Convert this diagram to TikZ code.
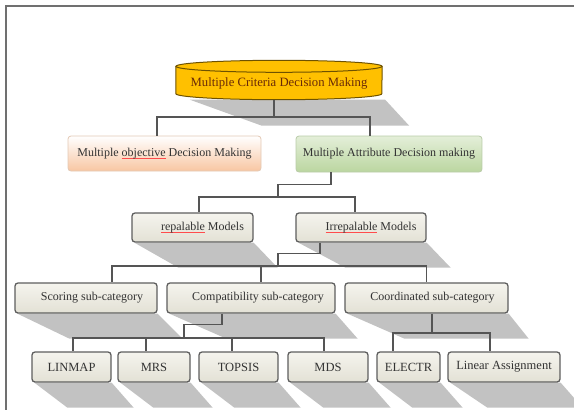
\documentclass[tikz,border=0pt]{standalone}
\usepackage{fontspec}
\setmainfont{Liberation Serif}
\usetikzlibrary{backgrounds,calc}
\definecolor{boxtop}{HTML}{F5F4EE}
\definecolor{boxbot}{HTML}{E3E1D5}
\definecolor{boxline}{HTML}{5E5E5E}
\definecolor{txt}{HTML}{333333}
\definecolor{connc}{HTML}{555555}
\definecolor{shadc}{HTML}{C2C2C2}
\definecolor{peach}{HTML}{F8C6A2}
\definecolor{peachline}{HTML}{E2C8B4}
\definecolor{leaf}{HTML}{BBD6A0}
\definecolor{leafline}{HTML}{B9CBA8}
\definecolor{gold}{HTML}{FFC000}
\definecolor{goldline}{HTML}{6E5200}
\definecolor{toptext}{HTML}{6A2A08}
\definecolor{framec}{HTML}{707070}
\newcommand\sperr[1]{\setbox0\hbox{#1}\rlap{\color{red!70}\rule[-2.2pt]{\wd0}{0.5pt}}\box0\relax}
\newcommand\boxshade[3]{\fill[shadc] ([xshift=3pt]#1.south west) -- (#1.south east) -- ++(#3,25) -- ($(#1.south west)+(#2,25)$) -- cycle;}
\tikzset{
  box/.style={rectangle, rounded corners=3pt, draw=boxline, line width=1.3pt,
    top color=boxtop, bottom color=boxbot, inner sep=0pt, text=txt,
    font=\fontsize{12}{14}\selectfont},
  leafbox/.style={box, font=\fontsize{12.5}{14}\selectfont, minimum height=30pt},
  conn/.style={draw=connc, line width=1.3pt},
}
\begin{document}
\begin{tikzpicture}[x=1pt,y=-1pt]
\clip (0,0) rectangle (574,410);
\draw[framec, line width=2pt] (6,410) -- (6,6) -- (574,6);

% top node (text area; cylinder drawn around it)
\node[inner sep=0pt, minimum width=206pt, minimum height=27pt, text=toptext,
  font=\fontsize{12.7}{14}\selectfont] (top) at (279,83)
  {Multiple Criteria Decision Making};

% level 2
\node[box, draw=peachline, line width=0.8pt, top color=white, bottom color=peach,
  minimum width=193pt, minimum height=35pt]
  (modm) at (164.5,153.5) {Multiple \sperr{objective} Decision Making};
\node[box, draw=leafline, line width=0.8pt, top color=white!60!leaf, bottom color=leaf,
  minimum width=186pt, minimum height=36pt]
  (madm) at (389,154) {Multiple Attribute Decision making};

% level 3
\node[box, minimum width=121pt, minimum height=29pt]
  (rep) at (192.5,227.5) {\hspace*{20pt}\sperr{repalable} Models};
\node[box, minimum width=130pt, minimum height=29pt]
  (irr) at (361,227.5) {\hspace*{20pt}\sperr{Irrepalable} Models};

% level 4
\node[box, minimum width=142pt, minimum height=30pt] (scor) at (86,298)
  {\hspace*{12pt}Scoring sub-category};
\node[box, minimum width=168pt, minimum height=30pt] (comp) at (251,298)
  {\hspace*{14pt}Compatibility sub-category};
\node[box, minimum width=163pt, minimum height=30pt] (coord) at (426.5,298)
  {\hspace*{12pt}Coordinated sub-category};

% level 5
\node[leafbox, minimum width=79pt] (linmap) at (71.5,367) {LINMAP};
\node[leafbox, minimum width=72pt] (mrs) at (154,367) {MRS};
\node[leafbox, minimum width=79pt] (topsis) at (238.5,367) {TOPSIS};
\node[leafbox, minimum width=80pt] (mds) at (328,367) {MDS};
\node[leafbox, minimum width=63pt] (electr) at (408.5,367) {ELECTR};
\node[leafbox, minimum width=112pt] (linass) at (504,367) {Linear Assignment};

\begin{pgfonlayer}{background}
  % shadows
  \fill[shadc] ($(top.south west)+(14,3)$) -- ($(top.south east)+(3,3)$) -- ++(24,26)
     -- ($(top.south west)+(86,29)$) -- cycle;
  \boxshade{rep}{47}{24}
  \boxshade{irr}{50}{24}
  \boxshade{scor}{55}{25}
  \boxshade{comp}{60}{22}
  \boxshade{coord}{60}{20}
  \boxshade{linmap}{36}{22}
  \boxshade{mrs}{36}{22}
  \boxshade{topsis}{36}{22}
  \boxshade{mds}{36}{22}
  \boxshade{electr}{36}{22}
  \boxshade{linass}{40}{22}
  % cylinder body
  \filldraw[fill=gold, draw=goldline, line width=1pt]
    ([yshift=3pt]top.north west) -- ([yshift=3pt]top.south west)
    arc[start angle=180, end angle=360, x radius=103pt, y radius=6pt]
    -- ([yshift=3pt]top.north east) -- cycle;
  \filldraw[fill=gold, draw=goldline, line width=1pt]
    ([yshift=3pt]top.north) ellipse [x radius=103pt, y radius=6pt];
\end{pgfonlayer}

% connectors
\coordinate (j1) at (274,117);
\draw[conn] ([xshift=-5pt,yshift=-3pt]top.south) -- (j1);
\draw[conn] (j1) -| ([xshift=-7.5pt]modm.north);
\draw[conn] (j1) -| ([xshift=-19pt]madm.north);

\coordinate (j2) at (278,197);
\draw[conn] ([xshift=-58pt]madm.south) -- ++(0,12) -| (j2);
\draw[conn] (j2) -| ([xshift=6.5pt]rep.north);
\draw[conn] (j2) -| ([xshift=-6pt]irr.north);

\coordinate (j3) at (278,266);
\draw[conn] ([xshift=-41pt]irr.south) -- ++(0,11) -| (j3);
\draw[conn] (j3) -| ([xshift=26pt]scor.north);
\draw[conn] (j3) -| ([xshift=10pt]comp.north);
\draw[conn] (j3) -| (coord.north);

\coordinate (j4) at (184,338);
\draw[conn] ([xshift=-29pt]comp.south) -- ++(0,11) -| (j4);
\draw[conn] (j4) -| ([xshift=1.5pt]linmap.north);
\draw[conn] (j4) -| ([xshift=-8pt]mrs.north);
\draw[conn] (j4) -| ([xshift=-6.5pt]topsis.north);
\draw[conn] (j4) -| ([xshift=-4pt]mds.north);

\coordinate (j5) at (432,333);
\draw[conn] ([xshift=5.5pt]coord.south) -- (j5);
\draw[conn] (j5) -| ([xshift=-15.5pt]electr.north);
\draw[conn] (j5) -| ([xshift=-14pt]linass.north);
\end{tikzpicture}
\end{document}
